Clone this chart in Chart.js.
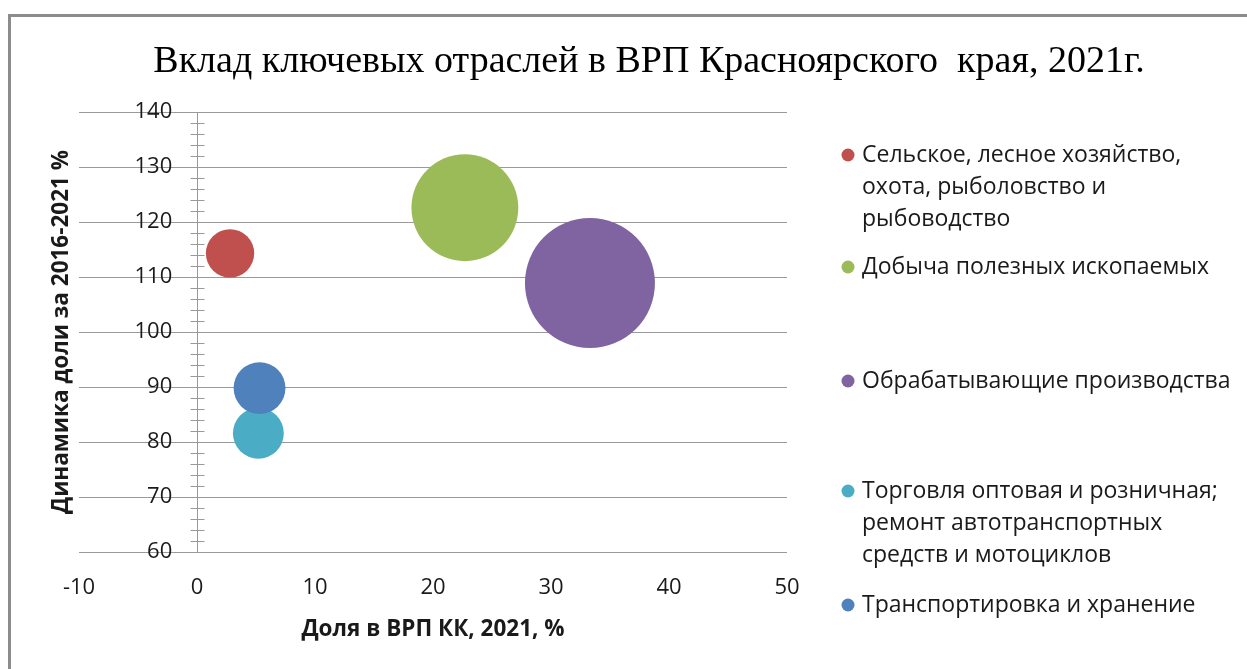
<!DOCTYPE html>
<html>
<head>
<meta charset="utf-8">
<title>Вклад ключевых отраслей в ВРП Красноярского края, 2021г.</title>
<script src="https://cdn.jsdelivr.net/npm/chart.js@4.4.1/dist/chart.umd.min.js"></script>
<style>
  html, body { margin: 0; padding: 0; background: #fff; }
</style>
</head>
<body>
<canvas id="chart" width="1247" height="669"></canvas>
<script>
// series: share of GRP (x), change of share 2016-2021 (y), bubble size
const seriesNames = [
  'Сельское, лесное хозяйство, охота, рыболовство и рыбоводство',
  'Добыча полезных ископаемых',
  'Обрабатывающие производства',
  'Торговля оптовая и розничная; ремонт автотранспортных средств и мотоциклов',
  'Транспортировка и хранение'
];
const legendLines = [
  ['Сельское, лесное хозяйство,', 'охота, рыболовство и', 'рыбоводство'],
  ['Добыча полезных ископаемых'],
  ['Обрабатывающие производства'],
  ['Торговля оптовая и розничная;', 'ремонт автотранспортных', 'средств и мотоциклов'],
  ['Транспортировка и хранение']
];
const shares = [2.8, 22.7, 33.3, 5.2, 5.3];
const dynamics = [114.3, 122.6, 108.9, 81.6, 89.8];
const bubbleSizes = [4.6, 22.5, 33.3, 5.1, 5.3];
const colors = ['#C0504D', '#9BBB59', '#8064A2', '#4BACC6', '#4F81BD'];

const titleText = 'Вклад ключевых отраслей в ВРП Красноярского  края, 2021г.';
const xTitle = 'Доля в ВРП КК, 2021, %';
const yTitle = 'Динамика доли за 2016-2021 %';

const gridColor = '#9a9a9a';
const textColor = '#1a1a1a';
const sansFont = '"Open Sans", "Noto Sans", sans-serif';
const maxRadius = 65;
const maxSize = Math.max(...bubbleSizes);

const datasets = seriesNames.map((name, i) => ({
  label: name,
  data: [{ x: shares[i], y: dynamics[i], r: maxRadius * Math.sqrt(bubbleSizes[i] / maxSize) }],
  backgroundColor: colors[i],
  borderWidth: 0,
  order: seriesNames.length - 1 - i
}));

const decor = {
  id: 'decor',
  beforeDraw(chart) {
    const ctx = chart.ctx;
    ctx.save();
    ctx.fillStyle = '#fff';
    ctx.fillRect(0, 0, chart.width, chart.height);
    ctx.strokeStyle = '#8c8c8c';
    ctx.lineWidth = 3;
    ctx.beginPath();
    ctx.moveTo(9.5, chart.height);
    ctx.lineTo(9.5, 15.5);
    ctx.lineTo(chart.width, 15.5);
    ctx.stroke();
    ctx.restore();
  },
  afterDraw(chart) {
    const ctx = chart.ctx;
    const xs = chart.scales.x, ys = chart.scales.y;
    const area = chart.chartArea;
    ctx.save();
    // minor tick marks crossing the vertical axis
    const x0 = Math.round(xs.getPixelForValue(0)) + 0.5;
    ctx.strokeStyle = gridColor;
    ctx.lineWidth = 1;
    ctx.beginPath();
    for (let v = ys.min + 2; v < ys.max; v += 2) {
      const py = Math.round(ys.getPixelForValue(v)) + 0.5;
      ctx.moveTo(x0 - 7, py);
      ctx.lineTo(x0 + 7, py);
    }
    ctx.stroke();

    // chart title
    ctx.fillStyle = '#000';
    ctx.font = '38px "Liberation Serif", "Times New Roman", serif';
    ctx.textAlign = 'center';
    ctx.textBaseline = 'alphabetic';
    ctx.fillText(titleText, 649, 72);

    // y axis title
    ctx.save();
    ctx.translate(62, (area.top + area.bottom) / 2);
    ctx.rotate(-Math.PI / 2);
    ctx.font = 'bold 22.5px ' + sansFont;
    ctx.textBaseline = 'middle';
    ctx.fillStyle = textColor;
    ctx.fillText(yTitle, 0, 0);
    ctx.restore();

    // legend
    const legendTop = [155, 267, 381, 491, 605];
    const lineStep = 32;
    ctx.font = '23px ' + sansFont;
    ctx.textAlign = 'left';
    ctx.textBaseline = 'middle';
    legendLines.forEach((lines, i) => {
      ctx.fillStyle = colors[i];
      ctx.beginPath();
      ctx.arc(848, legendTop[i], 6.5, 0, Math.PI * 2);
      ctx.fill();
      ctx.fillStyle = textColor;
      lines.forEach((t, j) => ctx.fillText(t, 862, legendTop[i] + j * lineStep));
    });
    ctx.restore();
  }
};

new Chart(document.getElementById('chart'), {
  type: 'bubble',
  data: { datasets },
  plugins: [decor],
  options: {
    responsive: false,
    animation: false,
    devicePixelRatio: 1,
    events: [],
    layout: { padding: { left: 79, right: 460, top: 112, bottom: 0 } },
    plugins: {
      legend: { display: false },
      title: { display: false },
      tooltip: { enabled: false }
    },
    scales: {
      x: {
        type: 'linear',
        min: -10,
        max: 50,
        afterFit(scale) { scale.height = 117; },
        grid: { display: false, drawTicks: false },
        border: { display: false },
        ticks: {
          stepSize: 10,
          padding: 23,
          color: textColor,
          font: { family: sansFont, size: 22 }
        },
        title: {
          display: true,
          text: xTitle,
          color: textColor,
          font: { family: sansFont, size: 22.5, weight: 'bold' },
          padding: { top: 0, bottom: 26 }
        }
      },
      // value labels, set a little left of the vertical axis
      y: {
        type: 'linear',
        position: { x: -2.1 },
        min: 60,
        max: 140,
        grid: { color: gridColor, lineWidth: 1, drawTicks: false },
        border: { display: false },
        ticks: {
          stepSize: 10,
          color: textColor,
          font: { family: sansFont, size: 22 }
        }
      },
      // the vertical axis line itself, crossing at x = 0
      yAxisLine: {
        type: 'linear',
        axis: 'y',
        position: { x: 0 },
        min: 60,
        max: 140,
        grid: { display: false, drawTicks: false },
        border: { display: true, color: gridColor, width: 1 },
        ticks: { display: false }
      }
    }
  }
});
</script>
</body>
</html>
